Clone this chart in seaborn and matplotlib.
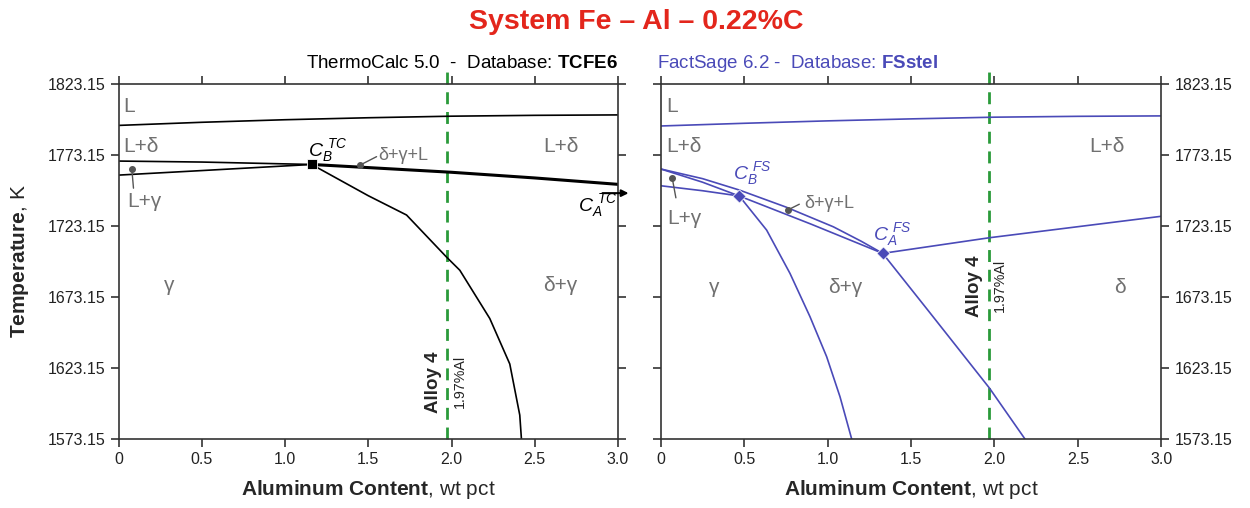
import numpy as np
import pandas as pd
import matplotlib
matplotlib.use("Agg")
import matplotlib.pyplot as plt
import seaborn as sns

# ---- data ----
al_ticks = [0, 0.5, 1.0, 1.5, 2.0, 2.5, 3.0]
al_tick_labels = ["0", "0.5", "1.0", "1.5", "2.0", "2.5", "3.0"]
t_ticks = [1573.15, 1623.15, 1673.15, 1723.15, 1773.15, 1823.15]
alloy_al = 1.97

# ThermoCalc (left)
tc_liq_x = [0, 0.5, 1.0, 1.5, 2.0, 2.5, 3.0]
tc_liq_t = [1794.0, 1796.2, 1798.0, 1799.4, 1800.5, 1801.1, 1801.4]
tc_upper_x = [0, 0.5, 1.16]
tc_upper_t = [1768.9, 1768.2, 1766.5]
tc_lower_x = [0, 0.5, 1.16]
tc_lower_t = [1759.0, 1762.2, 1766.5]
tc_thick_x = [1.16, 1.5, 2.0, 2.5, 3.0]
tc_thick_t = [1766.5, 1764.3, 1761.0, 1757.0, 1752.5]
tc_gamma_x = [1.16, 1.5, 1.73, 1.97, 2.05, 2.23, 2.35, 2.41, 2.42]
tc_gamma_t = [1766.5, 1744.5, 1730.9, 1701.3, 1692.0, 1658.0, 1626.0, 1590.0, 1573.15]
tc_cb = (1.16, 1766.5)

# FactSage (right)
fs_liq_x = [0, 0.5, 1.0, 1.5, 2.0, 2.5, 3.0]
fs_liq_t = [1793.6, 1795.5, 1797.2, 1798.6, 1799.8, 1800.4, 1800.7]
fs_a_x = [0, 0.25, 0.47]
fs_a_t = [1763.3, 1754.0, 1744.3]
fs_b_x = [0, 0.25, 0.47]
fs_b_t = [1751.5, 1748.0, 1744.3]
fs_c_x = [0, 0.25, 0.47, 0.75, 1.034, 1.2, 1.33]
fs_c_t = [1763.3, 1756.5, 1748.5, 1736.5, 1722.6, 1712.5, 1703.9]
fs_d_x = [0.47, 0.9, 1.33]
fs_d_t = [1744.3, 1724.5, 1703.9]
fs_e_x = [0.47, 0.634, 0.774, 0.894, 0.994, 1.074, 1.144]
fs_e_t = [1744.3, 1720.3, 1689.8, 1659.3, 1631.1, 1602.9, 1573.15]
fs_f_x = [1.33, 1.6, 1.97, 2.183]
fs_f_t = [1703.9, 1664.0, 1609.0, 1573.15]
fs_g_x = [1.33, 1.97, 3.0]
fs_g_t = [1703.9, 1714.9, 1730.0]
fs_cb = (0.47, 1744.3)
fs_ca = (1.33, 1703.9)

# ---- style ----
sns.set_style("ticks")
plt.rcParams["font.family"] = ["Liberation Sans", "DejaVu Sans"]
plt.rcParams["mathtext.fontset"] = "custom"
plt.rcParams["mathtext.rm"] = "Liberation Sans"
plt.rcParams["mathtext.it"] = "Liberation Sans:italic"
plt.rcParams["mathtext.bf"] = "Liberation Sans:bold"

BLUE = "#4a4ab8"
GRAY = "#707070"
GREEN = "#2a9a3a"
AXC = "#333333"

fig = plt.figure(figsize=(12.5, 5.08), dpi=100)
ax1 = fig.add_axes([0.0948, 0.1358, 0.3996, 0.6988])
ax2 = fig.add_axes([0.5287, 0.1358, 0.4003, 0.6988])


def curve(ax, xs, ts, color, lw=1.2):
    sns.lineplot(x=xs, y=ts, ax=ax, color=color, linewidth=lw, sort=False,
                 estimator=None)


def setup(ax, left_labels):
    ax.set_xlim(0, 3.0)
    ax.set_ylim(1573.15, 1823.15)
    ax.set_xticks(al_ticks)
    ax.set_xticklabels(al_tick_labels)
    ax.set_yticks(t_ticks)
    ax.set_yticklabels([f"{t:.2f}" for t in t_ticks])
    ax.tick_params(direction="out", top=True, right=True, length=6, width=1.2,
                   colors=AXC, labelsize=11.5, labelcolor="#222222",
                   labelleft=left_labels, labelright=not left_labels)
    for s in ax.spines.values():
        s.set_visible(True)
        s.set_linewidth(1.2)
        s.set_color(AXC)
    ax.set_xlabel(r"$\mathbf{Aluminum\ Content}$, wt pct", fontsize=15, labelpad=8)
    # alloy line, running a little past the top spine
    ax.axvline(alloy_al, ymin=0, ymax=1.04, color=GREEN, lw=2.0,
               dashes=(4.3, 2.8), clip_on=False, zorder=1)


def label(ax, x, t, s, color=GRAY, size=15, **kw):
    ax.text(x, t, s, color=color, fontsize=size, va="center", **kw)


def leader(ax, p0, p1):
    ax.plot([p0[0], p1[0]], [p0[1], p1[1]], color="#555555", lw=1)
    ax.plot([p0[0]], [p0[1]], "o", color="#555555", ms=4)


# ---- left: ThermoCalc ----
setup(ax1, True)
curve(ax1, tc_liq_x, tc_liq_t, "black")
curve(ax1, tc_upper_x, tc_upper_t, "black")
curve(ax1, tc_lower_x, tc_lower_t, "black")
curve(ax1, tc_thick_x, tc_thick_t, "black", lw=2.2)
curve(ax1, tc_gamma_x, tc_gamma_t, "black")
sns.scatterplot(x=[tc_cb[0]], y=[tc_cb[1]], ax=ax1, marker="s", s=55,
                color="black", zorder=5)
ax1.annotate("", xy=(3.08, 1746.3), xytext=(2.89, 1746.3),
             arrowprops=dict(arrowstyle="-|>", color="black", lw=1.5),
             annotation_clip=False)

label(ax1, 0.03, 1807.5, "L")
label(ax1, 0.03, 1779, "L+δ")
label(ax1, 2.55, 1779, "L+δ")
label(ax1, 0.05, 1740.5, "L+γ")
label(ax1, 0.27, 1681, "γ")
label(ax1, 2.55, 1681, "δ+γ")
label(ax1, 1.56, 1773, "δ+γ+L", size=13)
leader(ax1, (0.08, 1763.3), (0.09, 1749.8))
leader(ax1, (1.45, 1766.0), (1.55, 1772.0))
ax1.text(1.14, 1776.5, r"$C_B^{\ TC}$", color="black", fontsize=14, va="center")
ax1.text(2.76, 1737.5, r"$C_A^{\ TC}$", color="black", fontsize=14, va="center")
ax1.text(1.89, 1613, "Alloy 4", rotation=90, fontsize=13.5, fontweight="bold",
         ha="center", va="center")
ax1.text(2.05, 1613.5, "1.97%Al", rotation=90, fontsize=10.3, ha="center",
         va="center", color="#222222")
ax1.set_ylabel(r"$\mathbf{Temperature}$, K", fontsize=15)
ax1.yaxis.set_label_coords(-0.175, 0.5)
ax1.text(1.0, 1.045, r"ThermoCalc 5.0  -  Database: $\mathbf{TCFE6}$",
         transform=ax1.transAxes, ha="right", va="baseline", fontsize=13.5,
         color="black")

# ---- right: FactSage ----
setup(ax2, False)
for xs, ts in [(fs_liq_x, fs_liq_t), (fs_a_x, fs_a_t), (fs_b_x, fs_b_t),
               (fs_c_x, fs_c_t), (fs_d_x, fs_d_t), (fs_e_x, fs_e_t),
               (fs_f_x, fs_f_t), (fs_g_x, fs_g_t)]:
    curve(ax2, xs, ts, BLUE)
sns.scatterplot(x=[fs_cb[0], fs_ca[0]], y=[fs_cb[1], fs_ca[1]], ax=ax2,
                marker="D", s=45, color=BLUE, zorder=5)

label(ax2, 0.03, 1807.5, "L")
label(ax2, 0.03, 1779, "L+δ")
label(ax2, 2.57, 1779, "L+δ")
label(ax2, 0.04, 1728.7, "L+γ")
label(ax2, 0.29, 1680, "γ")
label(ax2, 1.0, 1680, "δ+γ")
label(ax2, 2.72, 1680, "δ")
label(ax2, 0.86, 1739.3, "δ+γ+L", size=13)
leader(ax2, (0.068, 1757), (0.09, 1743))
leader(ax2, (0.76, 1734.4), (0.83, 1738.5))
ax2.text(0.43, 1760, r"$C_B^{\ FS}$", color=BLUE, fontsize=14, va="center")
ax2.text(1.27, 1717, r"$C_A^{\ FS}$", color=BLUE, fontsize=14, va="center")
ax2.text(1.88, 1680.5, "Alloy 4", rotation=90, fontsize=13.5, fontweight="bold",
         ha="center", va="center")
ax2.text(2.03, 1681.5, "1.97%Al", rotation=90, fontsize=10.3, ha="center",
         va="center", color="#222222")
ax2.text(-0.008, 1.045, r"FactSage 6.2 -  Database: $\mathbf{FSstel}$",
         transform=ax2.transAxes, ha="left", va="baseline", fontsize=13.5,
         color=BLUE)

fig.text(0.509, 0.956, "System Fe – Al – 0.22%C", ha="center", va="center",
         fontsize=20.5, fontweight="bold", color="#e3261c")

fig.savefig("out.png", dpi=100)
